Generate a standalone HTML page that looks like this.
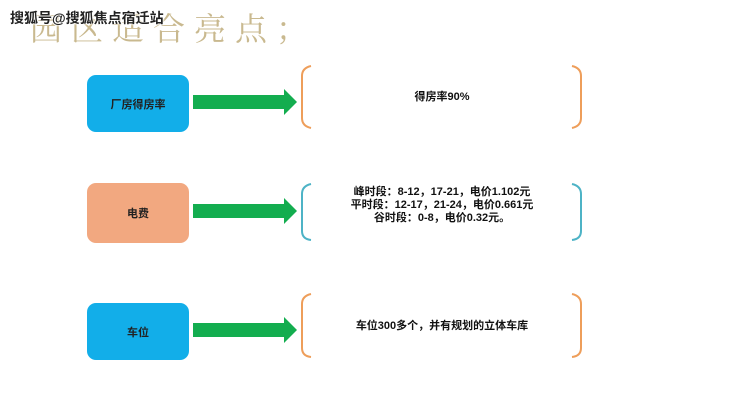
<!DOCTYPE html>
<html><head><meta charset="utf-8"><style>
body{margin:0;width:740px;height:417px;background:#fff;position:relative;overflow:hidden;font-family:"Liberation Sans","Noto Sans CJK SC",sans-serif}
.t{position:absolute;left:30px;top:4px;font-family:"Liberation Serif","Noto Serif CJK SC",serif;font-size:32px;color:#c9b98f;letter-spacing:9px}
.w{position:absolute;left:10px;top:8px;font-size:14px;font-weight:bold;color:#222;text-shadow:0 0 2px #fff,0 0 2px #fff,0 0 2px #fff}
.b{position:absolute;left:87px;width:102px;border-radius:9px;display:flex;align-items:center;justify-content:center;font-size:11px;font-weight:bold;color:#222}
.txt{position:absolute;left:312px;width:260px;text-align:center;font-size:11px;color:#111;font-weight:bold;line-height:13px}
</style></head><body>
<div class="t">园区适合亮点；</div>
<div class="w">搜狐号@搜狐焦点宿迁站</div>
<div class="b" style="top:75px;height:57px;background:#12aee9">厂房得房率</div>
<div class="b" style="top:183px;height:60px;background:#f2a880">电费</div>
<div class="b" style="top:303px;height:57px;background:#12aee9">车位</div>
<svg width="740" height="417" style="position:absolute;left:0;top:0">
<g fill="#13ad4f">
<polygon points="193,95 284,95 284,89 297,102 284,115 284,109 193,109"/>
<polygon points="193,204 284,204 284,198 297,211 284,224 284,218 193,218"/>
<polygon points="193,323 284,323 284,317 297,330 284,343 284,337 193,337"/>
</g>
<g fill="none" stroke-width="2">
<path d="M311,66 Q302,68 302,76 V118 Q302,126 311,128 M572,66 Q581,68 581,76 V118 Q581,126 572,128" stroke="#ee9e5a"/>
<path d="M311,184 Q302,186 302,194 V231 Q302,239 311,240 M572,184 Q581,186 581,194 V231 Q581,239 572,240" stroke="#4db3c6"/>
<path d="M311,294 Q302,296 302,304 V348 Q302,356 311,357 M572,294 Q581,296 581,304 V348 Q581,356 572,357" stroke="#ee9e5a"/>
</g></svg>
<div class="txt" style="top:91px">得房率90%</div>
<div class="txt" style="top:186px">峰时段：8-12，17-21，电价1.102元<br>平时段：12-17，21-24，电价0.661元<br>谷时段：0-8，电价0.32元。</div>
<div class="txt" style="top:320px">车位300多个，并有规划的立体车库</div>
</body></html>
